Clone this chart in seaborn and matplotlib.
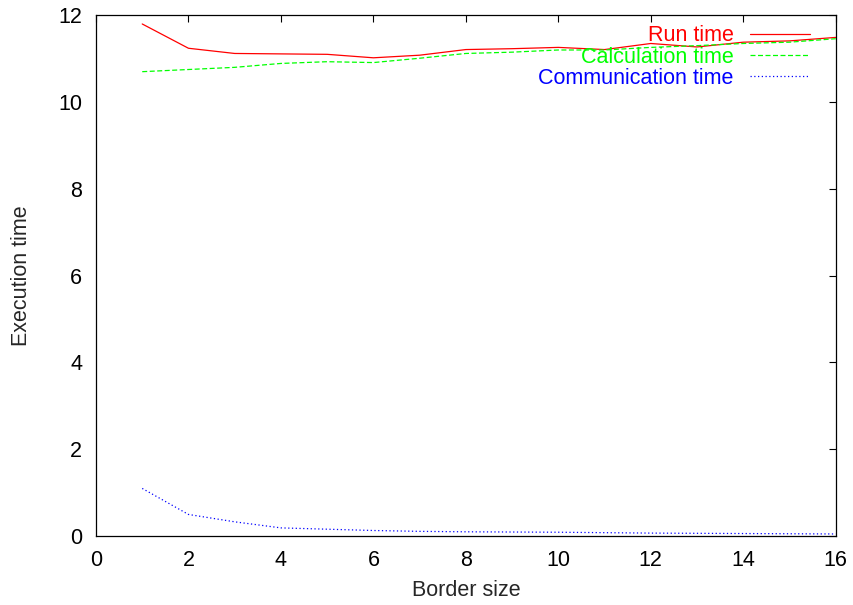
import matplotlib
matplotlib.use("Agg")
import matplotlib.pyplot as plt
import seaborn as sns
import pandas as pd

border_size = [1, 2, 3, 4, 5, 6, 7, 8, 9, 10, 11, 12, 13, 14, 15, 16]
run_time = [11.80, 11.24, 11.12, 11.11, 11.10, 11.02, 11.08, 11.21, 11.23, 11.26, 11.21, 11.35, 11.27, 11.38, 11.41, 11.49]
calc_time = [10.70, 10.75, 10.80, 10.89, 10.93, 10.91, 11.01, 11.12, 11.15, 11.20, 11.20, 11.26, 11.30, 11.35, 11.38, 11.46]
comm_time = [1.09, 0.49, 0.32, 0.18, 0.15, 0.12, 0.10, 0.09, 0.085, 0.08, 0.07, 0.06, 0.055, 0.05, 0.045, 0.04]

series_names = ["Run time", "Calculation time", "Communication time"]
colors = ["#ff0000", "#00ff00", "#0000ff"]
styles = ["-", (0, (4, 2)), (0, (1, 2))]

sns.set_style("white")
plt.rcParams['font.family'] = ['Liberation Sans', 'DejaVu Sans']

df = pd.DataFrame({
    "Border size": border_size * 3,
    "Execution time": run_time + calc_time + comm_time,
    "series": [series_names[0]] * 16 + [series_names[1]] * 16 + [series_names[2]] * 16,
})

fs = 15.5
fig = plt.figure(figsize=(8.54, 6.05), dpi=100)
ax = fig.add_axes([96 / 854, 1 - 535.7 / 605, (835.7 - 96) / 854, (535.7 - 15.3) / 605])

for name, c, ls in zip(series_names, colors, styles):
    sub = df[df["series"] == name]
    sns.lineplot(data=sub, x="Border size", y="Execution time", ax=ax,
                 color=c, linewidth=0.9, label=name)
    ax.lines[-1].set_linestyle(ls)

ax.set_xlim(0, 16)
ax.set_ylim(0, 12)
ax.set_xticks(range(0, 17, 2))
ax.set_yticks(range(0, 13, 2))
ax.tick_params(direction="in", length=5, width=0.8, labelsize=fs,
               top=True, right=True, colors="black")
ax.tick_params(axis="x", pad=10)
ax.tick_params(axis="y", pad=10)
for s in ax.spines.values():
    s.set_color("black")
    s.set_linewidth(0.9)
ax.set_xlabel("Border size", fontsize=fs, labelpad=7)
ax.set_ylabel("Execution time", fontsize=fs, labelpad=19)

leg = ax.legend(loc="upper right", bbox_to_anchor=(1.0, 1.0 + 16 / 520.4),
                frameon=False, markerfirst=False,
                labelcolor="linecolor", fontsize=fs, handlelength=2.8,
                handletextpad=0.75, labelspacing=0.02, borderaxespad=1.0,
                borderpad=0.2)

fig.savefig("out.png", dpi=100)
